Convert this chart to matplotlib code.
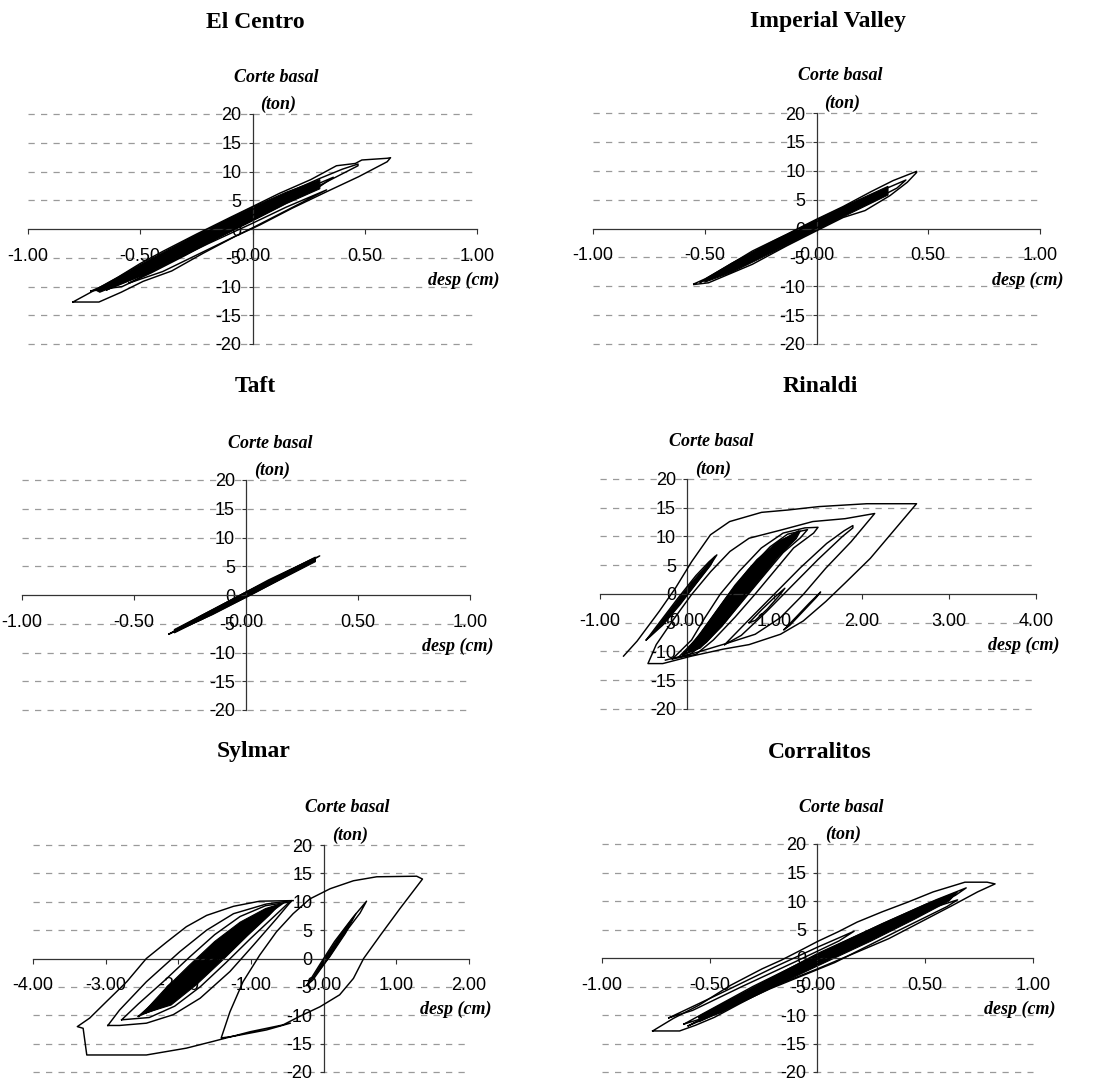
import matplotlib
matplotlib.use("Agg")
import matplotlib.pyplot as plt
from matplotlib.ticker import FixedLocator, FuncFormatter

W, H = 1096, 1082
plt.rcParams['lines.scale_dashes'] = False

# ---------------- data (desp cm, corte basal ton) ----------------
TITLES = ["El Centro", "Imperial Valley", "Taft", "Rinaldi", "Sylmar", "Corralitos"]
X_TICKS_SMALL = [-1.0, -0.5, 0.0, 0.5, 1.0]
X_TICKS_RINALDI = [-1.0, 0.0, 1.0, 2.0, 3.0, 4.0]
X_TICKS_SYLMAR = [-4.0, -3.0, -2.0, -1.0, 0.0, 1.0, 2.0]
Y_TICKS = [-20, -15, -10, -5, 0, 5, 10, 15, 20]
GRID_Y = [-20, -15, -10, -5, 5, 10, 15, 20]
Y_LABEL = ["Corte basal", "(ton)"]
X_LABEL = "desp (cm)"

# El Centro
EC_OUTER = [(-0.80, -12.7), (-0.72, -11.0), (-0.60, -8.4), (-0.50, -6.0), (-0.40, -3.9),
            (-0.25, -0.9), (-0.10, 2.0), (0.0, 3.9), (0.12, 6.2), (0.26, 8.6), (0.374, 11.0),
            (0.458, 11.4), (0.487, 12.0), (0.60, 12.3), (0.615, 12.4), (0.60, 11.7),
            (0.473, 9.1), (0.331, 6.5), (0.176, 3.6), (0.035, 0.75), (-0.078, -1.3),
            (-0.219, -4.2), (-0.36, -7.3), (-0.487, -9.1), (-0.585, -11.0), (-0.684, -12.7),
            (-0.80, -12.7)]
EC_MID = [(-0.72, -10.8), (-0.60, -8.8), (-0.45, -5.6), (-0.30, -2.6), (-0.15, 0.6), (0.0, 3.4),
          (0.15, 6.2), (0.30, 8.8), (0.40, 10.4), (0.47, 11.3), (0.47, 11.0), (0.42, 10.0),
          (0.30, 7.6), (0.15, 4.6), (0.0, 1.6), (-0.15, -1.4), (-0.30, -4.6), (-0.45, -7.6),
          (-0.58, -10.0), (-0.72, -10.8)]
EC_LOW = [(-0.55, -9.4), (-0.40, -6.4), (-0.20, -2.6), (0.0, 1.0), (0.15, 3.8), (0.33, 6.8),
          (0.20, 4.2), (0.0, 0.2), (-0.20, -3.6), (-0.40, -7.4), (-0.55, -9.4)]
EC_IN1 = [(-0.65, -10.6), (-0.40, -5.6), (-0.15, -0.6), (0.10, 4.4), (0.30, 8.0), (0.36, 9.0),
          (0.30, 7.4), (0.05, 2.6), (-0.20, -2.4), (-0.45, -7.4), (-0.65, -10.6)]
EC_DENSE = [(-0.70, -10.6), (-0.50, -6.2), (-0.25, -1.0), (0.0, 3.8), (0.15, 6.4), (0.30, 8.6),
            (0.30, 7.0), (0.15, 4.4), (0.0, 1.4), (-0.25, -3.4), (-0.50, -8.2), (-0.68, -11.0)]

# Imperial Valley
IV_OUTER = [(-0.549, -9.6), (-0.497, -8.7), (-0.385, -6.2), (-0.287, -3.9), (-0.133, -1.0),
            (0.0, 1.6), (0.119, 3.8), (0.245, 6.4), (0.343, 8.3), (0.448, 9.9), (0.448, 9.7),
            (0.406, 8.0), (0.329, 5.7), (0.217, 3.1), (0.119, 1.9), (0.0, -0.4), (-0.133, -3.0),
            (-0.287, -6.2), (-0.385, -7.8), (-0.483, -9.4), (-0.549, -9.7)]
IV_A = [(-0.52, -9.3), (-0.30, -4.6), (0.0, 1.2), (0.25, 5.9), (0.40, 8.4), (0.36, 7.0),
        (0.22, 4.2), (0.0, 0.1), (-0.30, -5.6), (-0.52, -9.3)]
IV_DENSE = [(-0.50, -8.8), (-0.38, -6.0), (-0.20, -2.3), (0.0, 1.5), (0.15, 4.3), (0.32, 7.3),
            (0.32, 5.8), (0.15, 2.6), (0.0, -0.3), (-0.20, -4.2), (-0.38, -7.6), (-0.50, -9.3)]

# Taft
TF_A = [(-0.344, -6.8), (-0.20, -3.6), (0.0, 0.5), (0.20, 4.4), (0.329, 6.8), (0.20, 3.9),
        (0.0, -0.3), (-0.20, -4.3), (-0.344, -6.8)]
TF_B = [(-0.30, -6.0), (-0.10, -1.6), (0.10, 2.6), (0.30, 6.3), (0.26, 5.0), (0.05, 0.6),
        (-0.15, -3.4), (-0.30, -6.0)]
TF_DENSE = [(-0.32, -6.0), (0.0, 0.5), (0.31, 6.6), (0.31, 5.8), (0.0, -0.4), (-0.32, -6.6)]

# Rinaldi
RI_OUTER = [(-0.73, -10.8), (-0.575, -8.2), (-0.32, -3.0), (-0.136, 1.0), (0.05, 5.6),
            (0.267, 10.3), (0.487, 12.6), (0.853, 14.2), (1.15, 14.6), (1.51, 15.2),
            (2.06, 15.7), (2.63, 15.7), (2.39, 11.4), (2.10, 6.2), (1.81, 1.9), (1.59, -1.3),
            (1.33, -4.7), (1.07, -7.0), (0.71, -8.8), (0.41, -9.6), (0.05, -10.8),
            (-0.28, -12.1), (-0.45, -12.1), (-0.355, -8.8), (-0.17, -4.7), (0.05, -0.1),
            (0.27, 3.9), (0.49, 7.4), (0.71, 9.7), (1.07, 11.1), (1.44, 12.6), (1.81, 13.1),
            (2.15, 14.0), (1.88, 9.1), (1.59, 4.5), (1.33, -0.1), (1.07, -4.1), (0.78, -7.0),
            (0.45, -8.6), (0.10, -10.2), (-0.25, -11.5)]
RI_LEFT = [(-0.47, -8.0), (-0.30, -4.6), (-0.10, -0.6), (0.10, 3.2), (0.25, 5.6), (0.34, 6.8),
           (0.28, 5.4), (0.12, 2.2), (-0.08, -1.8), (-0.28, -5.4), (-0.47, -8.0)]
RI_LEFT_FILL = [(-0.44, -7.6), (-0.22, -3.2), (0.05, 2.0), (0.32, 6.6), (0.27, 5.0),
                (0.02, 0.2), (-0.24, -4.6), (-0.44, -7.6)]
RI_C1 = [(-0.17, -11.3), (0.05, -8.0), (0.20, -4.2), (0.38, 0.0), (0.60, 4.0), (0.85, 8.0),
         (1.10, 10.6), (1.35, 11.5), (1.50, 11.6), (1.45, 10.6), (1.22, 8.0), (1.00, 4.0),
         (0.78, 0.0), (0.55, -4.0), (0.30, -8.0), (0.10, -10.5), (-0.17, -11.3)]
RI_C2 = [(-0.10, -11.0), (0.12, -7.6), (0.30, -3.8), (0.48, 0.0), (0.70, 4.2), (0.95, 8.2),
         (1.15, 10.4), (1.38, 11.2), (1.30, 9.8), (1.10, 7.2), (0.90, 3.6), (0.68, -0.4),
         (0.45, -4.6), (0.22, -8.4), (0.02, -10.6), (-0.10, -11.0)]
RI_C3 = [(-0.05, -10.6), (0.20, -6.6), (0.40, -2.6), (0.60, 1.6), (0.82, 5.6), (1.05, 9.0),
         (1.28, 11.0), (1.20, 9.4), (0.98, 6.0), (0.75, 1.8), (0.55, -2.2), (0.32, -6.4),
         (0.10, -9.6), (-0.05, -10.6)]
RI_CFILL = [(-0.05, -10.6), (0.15, -6.8), (0.35, -2.6), (0.55, 1.6), (0.80, 6.0), (1.05, 9.2),
            (1.30, 11.0), (1.25, 9.6), (1.05, 6.6), (0.85, 2.8), (0.62, -1.4), (0.40, -5.6),
            (0.15, -9.4), (-0.05, -10.6)]
RI_R1 = [(0.43, -8.8), (0.70, -4.6), (1.00, 0.0), (1.30, 4.6), (1.60, 8.8), (1.80, 11.0),
         (1.90, 11.9), (1.90, 11.5), (1.78, 10.0), (1.50, 6.0), (1.20, 1.4), (0.90, -3.2),
         (0.62, -7.2), (0.43, -8.8)]
RI_R2 = [(1.11, -6.2), (1.25, -4.0), (1.40, -1.6), (1.53, 0.35), (1.48, -0.6), (1.33, -3.0),
         (1.18, -5.4), (1.11, -6.2)]
RI_R3 = [(0.71, -5.0), (0.85, -2.8), (1.00, -0.6), (1.12, 1.0), (1.06, -0.2), (0.92, -2.6),
         (0.78, -4.6), (0.71, -5.0)]

# Sylmar
SY_OUTER = [(-0.42, 10.2), (-0.88, 10.1), (-1.24, 9.2), (-1.61, 7.6), (-1.89, 5.6), (-2.16, 2.9),
            (-2.44, 0.0), (-2.71, -4.1), (-2.99, -7.6), (-3.22, -10.5), (-3.39, -12.0),
            (-3.31, -12.3), (-3.26, -17.0), (-2.44, -17.0), (-1.89, -15.8), (-1.52, -14.6),
            (-1.01, -12.9), (-0.56, -11.7), (-0.33, -10.2), (-0.05, -8.5), (0.22, -6.4),
            (0.41, -3.5), (0.55, 0.0), (0.78, 4.1), (1.05, 8.8), (1.36, 14.0), (1.28, 14.5),
            (0.73, 14.4), (0.41, 13.7), (0.09, 12.3), (-0.19, 10.5), (-0.42, 7.9), (-0.65, 4.7),
            (-0.88, 0.6), (-1.11, -4.1), (-1.29, -9.4), (-1.41, -14.0), (-1.24, -13.7),
            (-0.79, -12.6), (-0.46, -11.4)]
SY_2 = [(-2.97, -11.8), (-2.81, -9.1), (-2.44, -4.1), (-1.98, 1.2), (-1.61, 5.0), (-1.24, 7.9),
        (-0.79, 9.6), (-0.44, 10.2), (-0.65, 7.0), (-0.97, 2.3), (-1.29, -2.3), (-1.70, -7.0),
        (-2.07, -9.9), (-2.44, -11.4), (-2.81, -11.8), (-2.97, -11.8)]
SY_3 = [(-2.78, -10.8), (-2.55, -8.0), (-2.20, -4.0), (-1.85, 0.2), (-1.50, 4.2), (-1.15, 7.4),
        (-0.80, 9.3), (-0.45, 10.0), (-0.50, 9.6), (-0.70, 7.2), (-1.00, 3.6), (-1.35, -0.8),
        (-1.70, -5.0), (-2.05, -8.4), (-2.40, -10.4), (-2.78, -10.8)]
SY_4 = [(-2.55, -10.2), (-2.20, -6.2), (-1.85, -2.0), (-1.50, 2.2), (-1.15, 5.8), (-0.80, 8.6),
        (-0.55, 9.8), (-0.75, 8.0), (-1.05, 4.6), (-1.40, 0.4), (-1.75, -3.8), (-2.10, -7.6),
        (-2.55, -10.2)]
SY_5 = [(-2.45, -9.6), (-2.10, -5.6), (-1.80, -2.2), (-1.45, 1.8), (-1.10, 5.4), (-0.85, 7.4),
        (-0.70, 8.4), (-0.85, 6.6), (-1.15, 3.0), (-1.50, -1.2), (-1.85, -5.2), (-2.15, -8.2),
        (-2.45, -9.6)]
SY_6 = [(-2.30, -8.6), (-2.00, -5.0), (-1.70, -1.4), (-1.40, 2.2), (-1.15, 5.0), (-0.95, 6.8),
        (-1.10, 4.8), (-1.35, 1.6), (-1.65, -2.0), (-1.95, -5.6), (-2.30, -8.6)]
SY_7 = [(-2.20, -7.0), (-1.90, -3.8), (-1.60, -0.4), (-1.30, 3.0), (-1.05, 5.6), (-1.20, 3.4),
        (-1.50, -0.2), (-1.80, -3.6), (-2.20, -7.0)]
SY_8 = [(-2.05, -6.4), (-1.75, -3.0), (-1.45, 0.6), (-1.20, 3.6), (-1.30, 1.8), (-1.60, -1.6),
        (-2.05, -6.4)]
SY_CORE = [(-2.50, -9.8), (-2.20, -5.6), (-1.85, -1.2), (-1.50, 3.0), (-1.15, 6.4),
           (-0.80, 8.8), (-0.60, 9.6), (-0.75, 7.6), (-1.05, 4.0), (-1.40, -0.4),
           (-1.75, -4.6), (-2.10, -8.2), (-2.50, -9.8)]
SY_SPIKE = [(-0.23, -4.7), (-0.05, -1.0), (0.15, 3.0), (0.40, 7.2), (0.59, 10.1), (0.50, 8.0),
            (0.25, 3.8), (0.05, -0.2), (-0.15, -3.8), (-0.23, -4.7)]
SY_SPIKE_FILL = [(-0.18, -4.0), (0.0, -0.2), (0.25, 4.6), (0.45, 8.0), (0.30, 4.4), (0.08, 0.2),
                 (-0.18, -4.0)]

# Corralitos
CO_OUTER = [(-0.765, -12.8), (-0.669, -10.6), (-0.551, -8.3), (-0.404, -4.8), (-0.257, -1.9),
            (-0.169, -0.4), (-0.081, 1.3), (0.0, 2.9), (0.096, 4.6), (0.184, 6.3), (0.30, 8.1),
            (0.419, 9.8), (0.537, 11.6), (0.684, 13.3), (0.787, 13.3), (0.824, 13.0),
            (0.743, 11.6), (0.625, 9.2), (0.478, 6.3), (0.331, 3.4), (0.169, 0.8), (0.0, -1.9),
            (-0.213, -5.1), (-0.36, -8.0), (-0.478, -10.4), (-0.566, -11.8), (-0.64, -12.8),
            (-0.765, -12.8)]
CO_C1 = [(-0.69, -10.5), (-0.45, -6.2), (-0.20, -1.6), (0.0, 1.9), (0.17, 4.7), (0.10, 3.0),
         (-0.10, -0.6), (-0.35, -5.0), (-0.58, -9.2), (-0.69, -10.5)]
CO_C2 = [(-0.62, -11.6), (-0.30, -5.0), (0.0, 0.6), (0.30, 6.0), (0.55, 10.2), (0.69, 12.3),
         (0.64, 11.0), (0.40, 6.4), (0.10, 0.8), (-0.20, -4.6), (-0.45, -9.6), (-0.62, -11.6)]
CO_C3 = [(-0.60, -11.9), (-0.30, -5.9), (0.0, -0.2), (0.30, 5.0), (0.50, 8.4), (0.65, 10.2),
         (0.60, 9.0), (0.38, 4.9), (0.08, -0.8), (-0.22, -5.4), (-0.48, -10.0), (-0.60, -11.9)]
CO_C4 = [(-0.55, -10.4), (-0.25, -4.4), (0.05, 1.2), (0.35, 6.6), (0.64, 11.2), (0.56, 9.4),
         (0.28, 4.4), (-0.02, -1.0), (-0.30, -6.2), (-0.55, -10.4)]
CO_C5 = [(-0.50, -9.4), (-0.20, -3.6), (0.10, 1.8), (0.40, 7.2), (0.62, 10.6), (0.55, 9.0),
         (0.25, 3.4), (-0.05, -2.0), (-0.35, -7.4), (-0.50, -9.4)]
CO_DENSE = [(-0.55, -10.2), (-0.30, -5.2), (0.0, 0.8), (0.30, 6.0), (0.50, 9.4), (0.65, 11.6),
            (0.61, 10.0), (0.45, 6.8), (0.25, 3.0), (0.0, -1.4), (-0.30, -6.8), (-0.55, -11.2)]

# ---------------- layout ----------------
PANEL_LOOPS = [
    [EC_OUTER, EC_MID, EC_LOW, EC_IN1],
    [IV_OUTER, IV_A],
    [TF_A, TF_B],
    [RI_OUTER, RI_LEFT, RI_C1, RI_C2, RI_C3, RI_R1, RI_R2, RI_R3],
    [SY_OUTER, SY_2, SY_3, SY_4, SY_5, SY_6, SY_7, SY_8, SY_SPIKE],
    [CO_OUTER, CO_C1, CO_C2, CO_C3, CO_C4, CO_C5],
]
PANEL_FILLS = [
    [EC_DENSE], [IV_DENSE], [TF_DENSE], [RI_LEFT_FILL, RI_CFILL], [SY_CORE, SY_SPIKE_FILL],
    [CO_DENSE],
]
PANEL_XTICKS = [X_TICKS_SMALL, X_TICKS_SMALL, X_TICKS_SMALL, X_TICKS_RINALDI,
                X_TICKS_SYLMAR, X_TICKS_SMALL]

# axes boxes in pixels: left, right, top, bottom
BOXES = [(28, 477, 114, 344), (593, 1040, 113, 344), (22, 470, 480, 710),
         (600, 1036, 479, 709), (33, 469, 845, 1072), (602, 1033, 844, 1072)]
TITLE_POS = [(255, 22), (828, 22), (255, 386), (820, 386), (254, 752), (820, 752)]

TICK_FONT = dict(family="Liberation Sans", size=13)
LABEL_FONT = dict(family="Liberation Serif", size=13, weight="bold", style="italic")
TITLE_FONT = dict(family="Liberation Serif", size=17, weight="bold")

fig = plt.figure(figsize=(W / 100, H / 100), dpi=100)
fig.patch.set_facecolor("white")


def fmt_x(v, pos):
    s = f"{v:.2f}"
    return "0.00" if s == "-0.00" else s


for i in range(6):
    l, r, t, b = BOXES[i]
    ax = fig.add_axes([l / W, 1 - b / H, (r - l) / W, (b - t) / H])
    ax.patch.set_alpha(0)
    xt = PANEL_XTICKS[i]
    ax.set_xlim(xt[0], xt[-1])
    ax.set_ylim(-20, 20)
    for side in ("top", "right"):
        ax.spines[side].set_visible(False)
    for side in ("left", "bottom"):
        ax.spines[side].set_position(("data", 0))
        ax.spines[side].set_color("#333333")
        ax.spines[side].set_linewidth(0.9)
    for gy in GRID_Y:
        ax.axhline(gy, color="#9a9a9a", lw=0.9, dashes=(4.5, 4.5), zorder=0, clip_on=False)

    for poly in PANEL_FILLS[i]:
        xs, ys = zip(*poly)
        ax.fill(xs, ys, color="black", lw=0.8, zorder=2)
    for loop in PANEL_LOOPS[i]:
        xs, ys = zip(*loop)
        ax.plot(xs, ys, color="black", lw=1.05, zorder=3, clip_on=False,
                solid_joinstyle="round")

    ax.xaxis.set_major_locator(FixedLocator(xt))
    ax.xaxis.set_major_formatter(FuncFormatter(fmt_x))
    ax.yaxis.set_major_locator(FixedLocator(Y_TICKS))
    ax.yaxis.set_major_formatter(FuncFormatter(lambda v, p: f"{int(v)}"))
    ax.tick_params(axis="x", direction="out", length=3.5, width=0.8, color="#333333", pad=10)
    ax.tick_params(axis="y", direction="out", length=3, width=0.8, color="#333333", pad=5)
    for lab in ax.get_xticklabels() + ax.get_yticklabels():
        lab.set_fontfamily(TICK_FONT["family"])
        lab.set_fontsize(TICK_FONT["size"])

    ax.annotate(Y_LABEL[0], xy=(0, 1), xycoords=("data", "axes fraction"),
                xytext=(24, 37), textcoords="offset pixels", ha="center", va="center",
                **LABEL_FONT)
    ax.annotate(Y_LABEL[1], xy=(0, 1), xycoords=("data", "axes fraction"),
                xytext=(26, 10), textcoords="offset pixels", ha="center", va="center",
                **LABEL_FONT)
    ax.annotate(X_LABEL, xy=(1, -9), xycoords=("axes fraction", "data"),
                xytext=(23, 0), textcoords="offset pixels", ha="right", va="center",
                **LABEL_FONT)

    tx, ty = TITLE_POS[i]
    fig.text(tx / W, 1 - ty / H, TITLES[i], ha="center", va="center", **TITLE_FONT)

fig.savefig("out.png", dpi=100, facecolor="white")
